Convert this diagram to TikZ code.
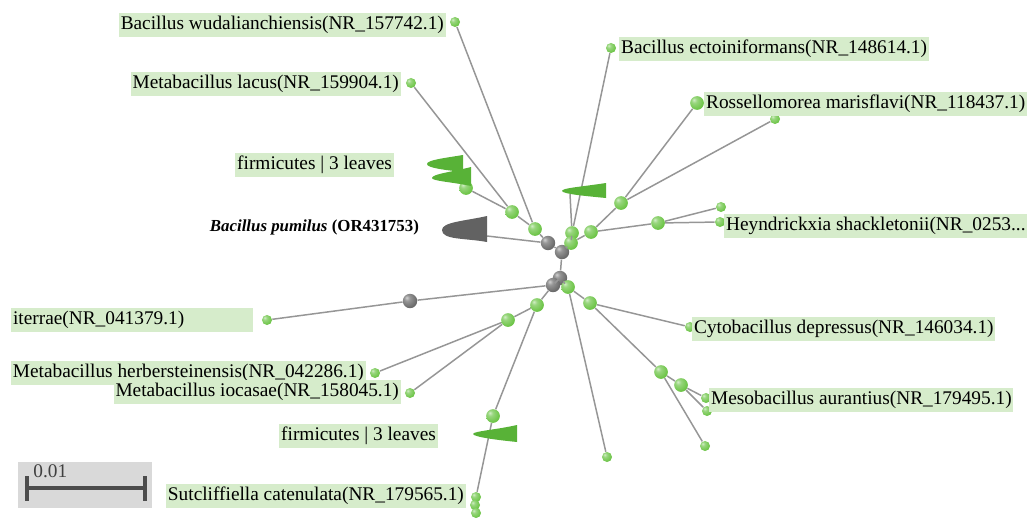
\documentclass[tikz,border=0pt]{standalone}
\usepackage{fontspec}
\setmainfont{Liberation Serif}

\definecolor{verdefolha}{RGB}{108,196,70}
\definecolor{fundorotulo}{RGB}{214,236,203}
\definecolor{corramo}{RGB}{150,150,150}
\definecolor{verdeclado}{RGB}{88,178,55}
\definecolor{cinzaclado}{RGB}{98,98,98}
\definecolor{cinzano}{RGB}{105,105,105}
\definecolor{cinzaescala}{RGB}{217,217,217}

% sombreamento das bolas (mais claro que o ball padrao)
\pgfdeclareradialshading{bolaverde}{\pgfpoint{-12bp}{12bp}}{%
  color(0bp)=(verdefolha!30!white); color(10bp)=(verdefolha!70!white); color(30bp)=(verdefolha);
  color(55bp)=(verdefolha!88!black); color(70bp)=(verdefolha!80!black)}
\pgfdeclareradialshading{bolacinza}{\pgfpoint{-12bp}{12bp}}{%
  color(0bp)=(cinzano!30!white); color(10bp)=(cinzano!70!white); color(30bp)=(cinzano);
  color(55bp)=(cinzano!85!black); color(70bp)=(cinzano!75!black)}

\tikzset{
  ramo/.style={draw=corramo, line width=0.85pt},
  folha/.style={circle, inner sep=0pt, minimum size=5.7pt, shade, shading=bolaverde},
  interno/.style={circle, inner sep=0pt, minimum size=7.8pt, shade, shading=bolaverde},
  raiz/.style={circle, inner sep=0pt, minimum size=8.2pt, shade, shading=bolacinza},
  rotulo/.style={fill=fundorotulo, inner xsep=1pt, inner ysep=1pt,
    text height=8.5pt, text depth=3pt, font=\fontsize{11}{13}\selectfont},
}

\begin{document}
\begin{tikzpicture}[x=0.02cm, y=-0.02cm]

  \useasboundingbox (0,0) rectangle (1030,517);

  % 1. Nos internos (cinza)
  \node[raiz] (g1) at (548,243) {};
  \node[raiz] (g2) at (562,252) {};
  \node[raiz] (g3) at (560,278) {};
  \node[raiz] (g4) at (553,285) {};
  \node[raiz] (g5) at (410,301) {};

  % 2. Nos internos (verde)
  \node[interno] (a1) at (535,229) {};
  \node[interno] (a2) at (512,212) {};
  \node[interno] (a3) at (466,188) {};
  \node[interno] (b1) at (572,233) {};
  \node[interno] (b2) at (571,243) {};
  \node[interno] (c1) at (591,232) {};
  \node[interno] (c2) at (621,203) {};
  \node[interno] (c3) at (658,223) {};
  \node[interno] (d1) at (537,305) {};
  \node[interno] (d2) at (508,320) {};
  \node[interno] (e1) at (493,416) {};
  \node[interno] (f0) at (568,287) {};
  \node[interno] (f1) at (590,303) {};
  \node[interno] (f2) at (661,372) {};
  \node[interno] (f3) at (681,385) {};

  % 3. Folhas
  \node[folha] (wud) at (455,22) {};
  \node[folha] (lac) at (411,83) {};
  \node[folha] (ect) at (611,48) {};
  \node[interno] (ros) at (697,103) {};
  \node[folha] (r2) at (775,119) {};
  \node[folha] (h1) at (721,207) {};
  \node[folha] (hey) at (720,222) {};
  \node[folha] (ite) at (267,320) {};
  \node[folha] (her) at (375,373) {};
  \node[folha] (ioc) at (410,393) {};
  \node[folha] (su1) at (476,497) {};
  \node[folha] (su2) at (475,505) {};
  \node[folha] (su3) at (476,513) {};
  \node[folha] (cyt) at (690,327) {};
  \node[folha] (mes1) at (706,398) {};
  \node[folha] (mes2) at (707,411) {};
  \node[folha] (m3) at (705,446) {};
  \node[folha] (l1) at (607,457) {};

  \coordinate (pum) at (487,236); % base do clado cinza
  \coordinate (topo) at (570,194); % base do clado central

  % 4. Ramos
  \draw[ramo] (g1) -- (g2);
  \draw[ramo] (g2) -- (g3);
  \draw[ramo] (g3) -- (g4);
  \draw[ramo] (g1) -- (pum);
  \draw[ramo] (g1) -- (a1);
  \draw[ramo] (a1) -- (wud);
  \draw[ramo] (a1) -- (a2);
  \draw[ramo] (a2) -- (lac);
  \draw[ramo] (a2) -- (a3);
  \draw[ramo] (g2) -- (b2);
  \draw[ramo] (b2) -- (b1);
  \draw[ramo] (b1) -- (ect);
  \draw[ramo] (b1) -- (topo);
  \draw[ramo] (b2) -- (c1);
  \draw[ramo] (c1) -- (c2);
  \draw[ramo] (c2) -- (ros);
  \draw[ramo] (c2) -- (r2);
  \draw[ramo] (c1) -- (c3);
  \draw[ramo] (c3) -- (h1);
  \draw[ramo] (c3) -- (hey);
  \draw[ramo] (g4) -- (g5);
  \draw[ramo] (g5) -- (ite);
  \draw[ramo] (g4) -- (d1);
  \draw[ramo] (d1) -- (d2);
  \draw[ramo] (d2) -- (her);
  \draw[ramo] (d2) -- (ioc);
  \draw[ramo] (d1) -- (e1);
  \draw[ramo] (e1) -- (su1);
  \draw[ramo] (g3) -- (f0);
  \draw[ramo] (f0) -- (l1);
  \draw[ramo] (f0) -- (f1);
  \draw[ramo] (f1) -- (cyt);
  \draw[ramo] (f1) -- (f2);
  \draw[ramo] (f2) -- (f3);
  \draw[ramo] (f3) -- (mes1);
  \draw[ramo] (f3) -- (mes2);
  \draw[ramo] (f2) -- (m3);

  % 5. Clados colapsados
  \fill[verdeclado] (463,155) -- (463,172) .. controls (445,170) and (427,168) .. (427,164)
    .. controls (427,160) and (445,158) .. (463,155); % firmicutes (cima)
  \fill[verdeclado] (471,167) -- (471,186) .. controls (452,182) and (432,181) .. (432,178)
    .. controls (432,174) and (452,172) .. (471,167);
  \fill[verdeclado] (606,183) -- (606,198) .. controls (585,196) and (563,194) .. (562,191)
    .. controls (562,188) and (580,187) .. (606,183); % clado central
  \fill[cinzaclado] (487,216) -- (487,242) .. controls (465,238) and (442,240) .. (442,230)
    .. controls (442,222) and (465,221) .. (487,216); % Bacillus pumilus
  \fill[verdeclado] (517,425) -- (517,442) .. controls (497,440) and (474,437) .. (473,434)
    .. controls (474,431) and (495,430) .. (517,425); % firmicutes (baixo)

  % 6. Rotulos
  \node[rotulo, anchor=east] (t_wud) at (446,25) {Bacillus wudalianchiensis(NR\_157742.1)};
  \node[rotulo, anchor=east] (t_lac) at (401,84) {Metabacillus lacus(NR\_159904.1)};
  \node[rotulo, anchor=east] (t_fi1) at (394,165) {firmicutes | 3 leaves};
  \node[anchor=east, inner sep=1pt, font=\fontsize{9.6}{11}\selectfont] (t_pum) at (421,227)
    {\textbf{\textit{Bacillus pumilus}} \textbf{(OR431753)}};
  \node[rotulo, anchor=west] (t_ect) at (619,49) {Bacillus ectoiniformans(NR\_148614.1)};
  \node[rotulo, anchor=west] (t_ros) at (704,104) {Rossellomorea marisflavi(NR\_118437.1)};
  \node[rotulo, anchor=west] (t_hey) at (724,226) {Heyndrickxia shackletonii(NR\_0253...};
  \node[rotulo, anchor=west, text width=47.6mm, align=left] (t_ite) at (11,320) {iterrae(NR\_041379.1)};
  \node[rotulo, anchor=west] (t_cyt) at (692,329) {Cytobacillus depressus(NR\_146034.1)};
  \node[rotulo, anchor=east] (t_her) at (366,373) {Metabacillus herbersteinensis(NR\_042286.1)};
  \node[rotulo, anchor=east] (t_ioc) at (401,392) {Metabacillus iocasae(NR\_158045.1)};
  \node[rotulo, anchor=west] (t_mes) at (709,400) {Mesobacillus aurantius(NR\_179495.1)};
  \node[rotulo, anchor=east] (t_fi2) at (438,436) {firmicutes | 3 leaves};
  \node[rotulo, anchor=east] (t_sut) at (466,496) {Sutcliffiella catenulata(NR\_179565.1)};

  % 7. Escala
  \fill[cinzaescala] (18,462) rectangle (152,508);
  \draw[line width=2.2pt, black!70] (27,476) -- (27,501) (27,488) -- (145,488) (145,476) -- (145,501);
  \node[anchor=west, inner sep=0pt, text=black!75, font=\fontsize{11}{13}\selectfont] (t_esc) at (33,471) {0.01};

\end{tikzpicture}
\end{document}
